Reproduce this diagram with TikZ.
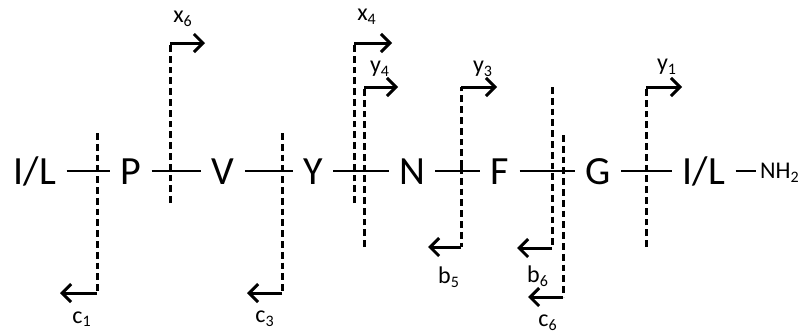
\documentclass[tikz,border=0pt]{standalone}
\usepackage{fontspec}
\setmainfont{Carlito}
\usetikzlibrary{arrows.meta}
\tikzset{
  >={Straight Barb[length=4.5pt,width=9pt]},
  res/.style={font=\fontsize{20}{20}\selectfont,inner xsep=5pt,inner ysep=0pt,
    text height=13pt,text depth=0pt},
  bond/.style={line width=0.8pt},
  cut/.style={line width=1.5pt,dash pattern=on 3.4pt off 2pt},
  hook/.style={->,line width=1.5pt},
  tag/.style={font=\fontsize{12}{12}\selectfont,inner sep=0pt},
}
\begin{document}
\begin{tikzpicture}[x=0.5pt,y=-0.5pt]
  \useasboundingbox (0,0) rectangle (806,333);
  % peptide chain
  \foreach \n/\x/\t in {il1/35/{I/L},pro/131/P,val/223/V,tyr/313/Y,
    asn/412/N,phe/500/F,gly/598/G,il2/704/{I/L}}
    \node[res] (\n) at (\x,171) {\t};
  \node[res,font=\fontsize{12}{12}\selectfont,text height=7.5pt,inner xsep=2pt] (nh2) at (780,171) {NH\textsubscript{2}};
  \foreach \a/\b in {il1/pro,pro/val,val/tyr,tyr/asn,asn/phe,phe/gly,gly/il2}
    \draw[bond] (\a) -- (\b);
  \draw[line width=1.4pt] (il2) -- (nh2);
  % cleavage sites: name/x/free end/hook end/tip/label x/label y/letter/index
  \foreach \n/\x/\ya/\yb/\tx/\lx/\ly/\l/\s in {
    c1/97/133/293/60/82/319/c/1,
    x6/170/203/43/205/183/19/x/6,
    c3/282/133/293/247/265/319/c/3,
    x4/354/203/43/392/367/17/x/4,
    y4/364/247/87/398/380/69/y/4,
    y3/461/167/87/497/483/69/y/3,
    b5/461/167/247/428/449/277/b/5,
    b6/552/87/248/517/538/276/b/6,
    c6/563/135/297/528/548/323/c/6,
    y1/646/247/87/682/667/67/y/1}
  {
    \coordinate (\n a) at (\x,\ya);
    \coordinate (\n b) at (\x,\yb);
    \coordinate (\n t) at (\tx,\yb);
    \draw[cut] (\n a) -- (\n b);
    \draw[hook] (\n b) -- (\n t);
    \node[tag] (lab\n) at (\lx,\ly) {\l\textsubscript{\s}};
  }
\end{tikzpicture}
\end{document}
